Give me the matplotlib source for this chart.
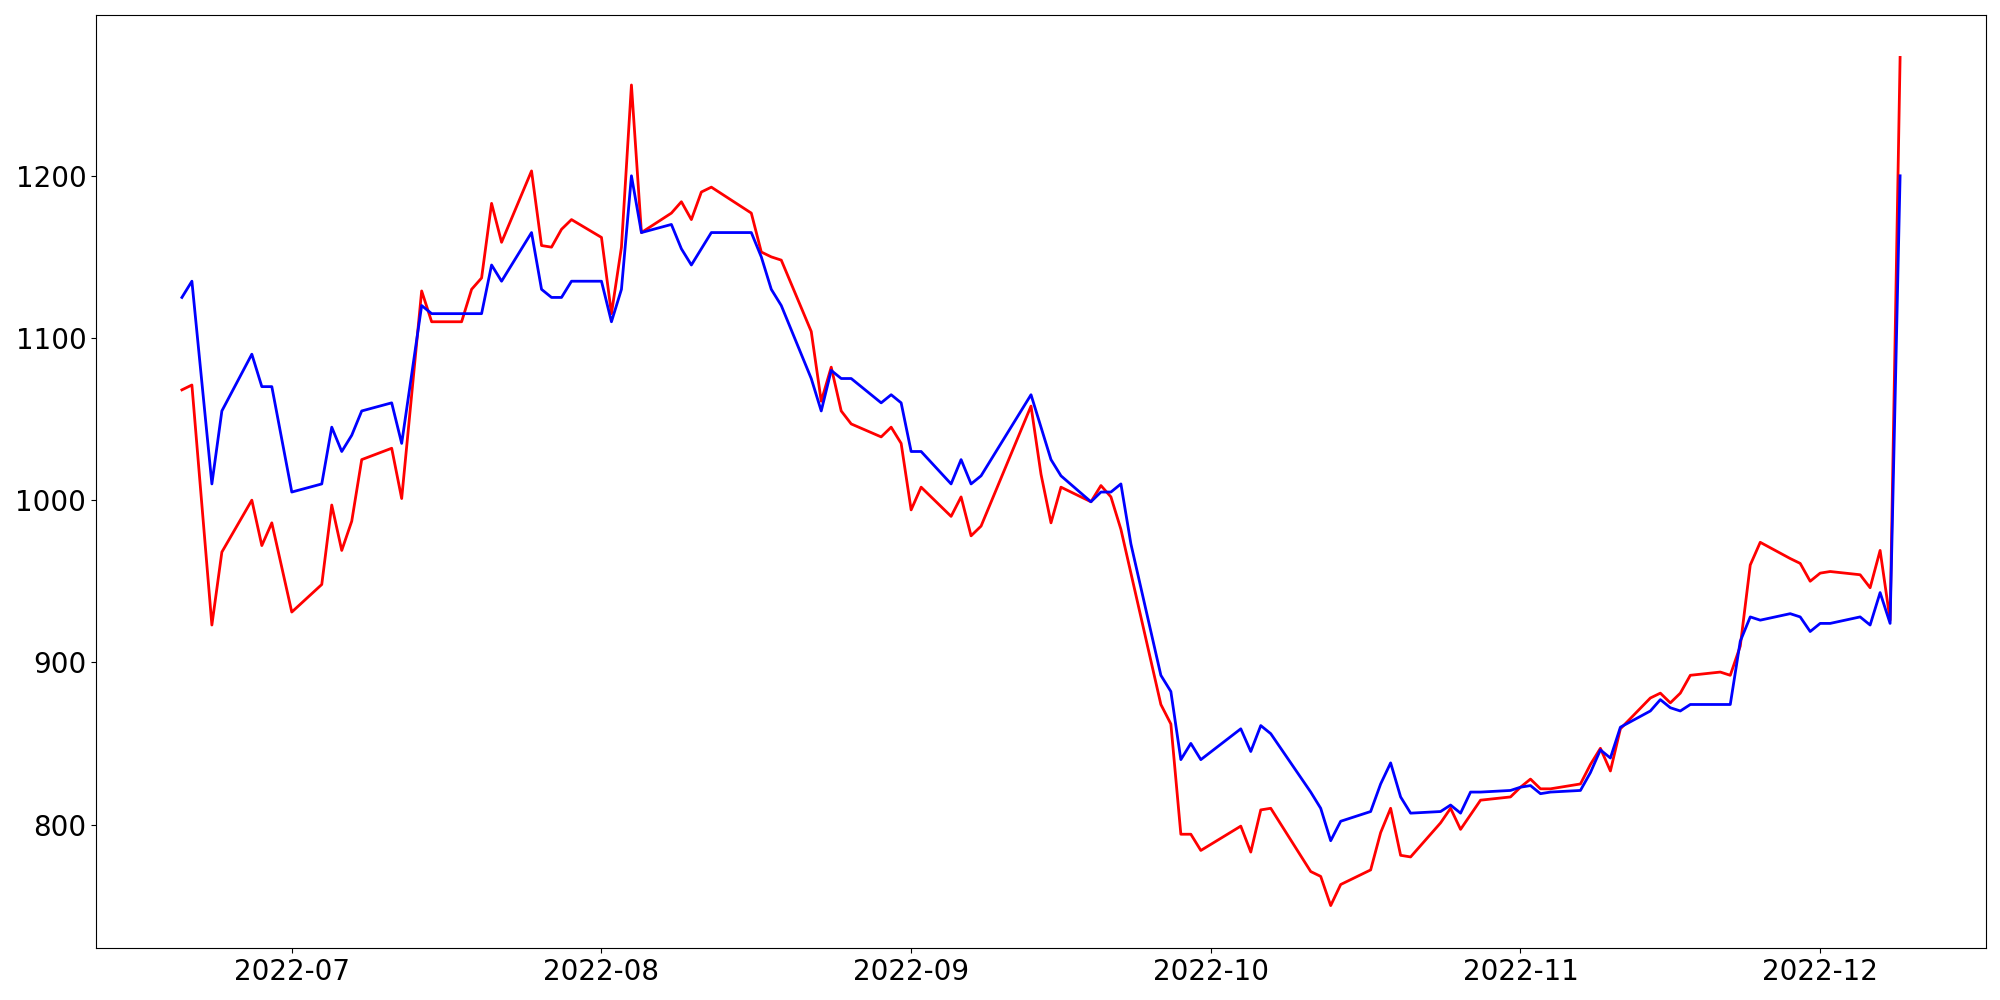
import pandas as pd
import matplotlib
matplotlib.use("Agg")
import matplotlib.pyplot as plt

# trading days (2022) and the two price series
dates = [
    "06-20", "06-21", "06-23", "06-24", "06-27", "06-28", "06-29", "07-01",
    "07-04", "07-05", "07-06", "07-07", "07-08", "07-11", "07-12", "07-14",
    "07-15", "07-18", "07-19", "07-20", "07-21", "07-22", "07-25", "07-26",
    "07-27", "07-28", "07-29", "08-01", "08-02", "08-03", "08-04", "08-05",
    "08-08", "08-09", "08-10", "08-11", "08-12", "08-16", "08-17", "08-18",
    "08-19", "08-22", "08-23", "08-24", "08-25", "08-26", "08-29", "08-30",
    "08-31", "09-01", "09-02", "09-05", "09-06", "09-07", "09-08", "09-13",
    "09-14", "09-15", "09-16", "09-19", "09-20", "09-21", "09-22", "09-23",
    "09-26", "09-27", "09-28", "09-29", "09-30", "10-04", "10-05", "10-06",
    "10-07", "10-11", "10-12", "10-13", "10-14", "10-17", "10-18", "10-19",
    "10-20", "10-21", "10-24", "10-25", "10-26", "10-27", "10-28", "10-31",
    "11-01", "11-02", "11-03", "11-04", "11-07", "11-08", "11-09", "11-10",
    "11-11", "11-14", "11-15", "11-16", "11-17", "11-18", "11-21", "11-22",
    "11-23", "11-24", "11-25", "11-28", "11-29", "11-30", "12-01", "12-02",
    "12-05", "12-06", "12-07", "12-08", "12-09",
]

red_values = [
    1068, 1071, 923, 968, 1000, 972, 986, 931,
    948, 997, 969, 987, 1025, 1032, 1001, 1129,
    1110, 1110, 1130, 1137, 1183, 1159, 1203, 1157,
    1156, 1167, 1173, 1162, 1115, 1156, 1256, 1165,
    1177, 1184, 1173, 1190, 1193, 1177, 1153, 1150,
    1148, 1104, 1061, 1082, 1055, 1047, 1039, 1045,
    1035, 994, 1008, 990, 1002, 978, 984, 1058,
    1016, 986, 1008, 999, 1009, 1002, 982, 955,
    874, 862, 794, 794, 784, 799, 783, 809,
    810, 771, 768, 750, 763, 772, 795, 810,
    781, 780, 801, 810, 797, 806, 815, 817,
    823, 828, 822, 822, 825, 837, 847, 833,
    859, 878, 881, 875, 881, 892, 894, 892,
    910, 960, 974, 964, 961, 950, 955, 956,
    954, 946, 969, 926, 1273,
]

blue_values = [
    1125, 1135, 1010, 1055, 1090, 1070, 1070, 1005,
    1010, 1045, 1030, 1040, 1055, 1060, 1035, 1120,
    1115, 1115, 1115, 1115, 1145, 1135, 1165, 1130,
    1125, 1125, 1135, 1135, 1110, 1130, 1200, 1165,
    1170, 1155, 1145, 1155, 1165, 1165, 1150, 1130,
    1120, 1075, 1055, 1080, 1075, 1075, 1060, 1065,
    1060, 1030, 1030, 1010, 1025, 1010, 1015, 1065,
    1045, 1025, 1015, 999, 1005, 1005, 1010, 973,
    892, 882, 840, 850, 840, 859, 845, 861,
    856, 820, 810, 790, 802, 808, 825, 838,
    817, 807, 808, 812, 807, 820, 820, 821,
    823, 824, 819, 820, 821, 832, 846, 841,
    860, 870, 877, 872, 870, 874, 874, 874,
    913, 928, 926, 930, 928, 919, 924, 924,
    928, 923, 943, 924, 1200,
]

df = pd.DataFrame({
    "date": pd.to_datetime(["2022-" + d for d in dates]),
    "red": red_values,
    "blue": blue_values,
})

fig, ax = plt.subplots(figsize=(20, 10), dpi=100)
ax.plot(df["date"], df["red"], color="red", linewidth=2)
ax.plot(df["date"], df["blue"], color="blue", linewidth=2)

ax.tick_params(labelsize=20)
fig.subplots_adjust(left=0.048, right=0.993, bottom=0.052, top=0.985)

fig.savefig("out.png", dpi=100)
